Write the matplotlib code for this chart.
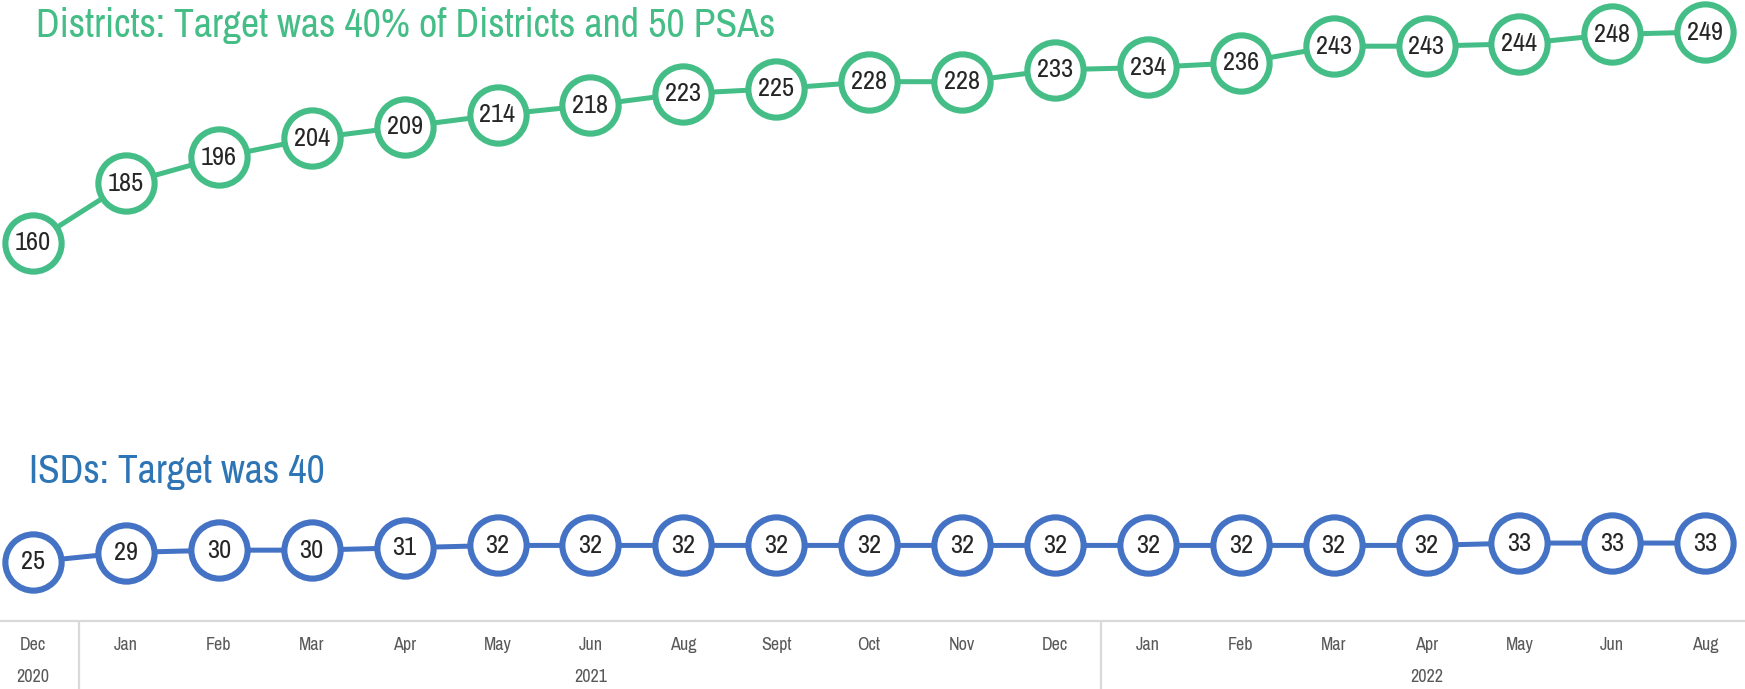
import matplotlib
matplotlib.use('Agg')
import matplotlib.pyplot as plt
import matplotlib.transforms as mtransforms

plt.rcParams['font.family'] = ['Archivo Narrow', 'Liberation Sans', 'DejaVu Sans']

months = ['Dec', 'Jan', 'Feb', 'Mar', 'Apr', 'May', 'Jun', 'Aug', 'Sept', 'Oct',
          'Nov', 'Dec', 'Jan', 'Feb', 'Mar', 'Apr', 'May', 'Jun', 'Aug']
years = ['2020', '2021', '2022']
year_spans = [(0, 0), (1, 11), (12, 18)]

districts = [160, 185, 196, 204, 209, 214, 218, 223, 225, 228, 228, 233, 234, 236,
             243, 243, 244, 248, 249]
isds = [25, 29, 30, 30, 31, 32, 32, 32, 32, 32, 32, 32, 32, 32, 32, 32, 33, 33, 33]

green = '#45BD86'
blue = '#4472C4'
title_blue = '#2E75B6'
text_dark = '#262626'
axis_gray = '#D9D9D9'
label_gray = '#595959'

W, H = 1745, 689
fig = plt.figure(figsize=(W / 100, H / 100), dpi=100)
ax = fig.add_axes([0, 0, 1, 1])
ax.axis('off')

x = list(range(len(months)))
for vals, col in [(districts, green), (isds, blue)]:
    ax.plot(x, vals, color=col, lw=3.6, zorder=2, solid_capstyle='round')
    ax.plot(x, vals, 'o', ms=40.5, mfc='white', mec=col, mew=4.4, zorder=3)
    for xi, v in zip(x, vals):
        ax.text(xi, v, str(v), ha='center', va='center', fontsize=19,
                color=text_dark, zorder=4)

# map data to pixels like the original
px = 92.9
x0 = 33
ax.set_xlim(-x0 / px, (W - x0) / px)
ypx = 2.366
ax.set_ylim(249 - (H - 32) / ypx, 249 + 32 / ypx)

# axis line and category labels
ax.axhline(0, color=axis_gray, lw=1.6, zorder=1)
trans = mtransforms.blended_transform_factory(ax.transData, ax.transAxes)
for xi, m in zip(x, months):
    ax.text(xi, 1 - 645 / H, m, transform=trans, ha='center', va='center',
            fontsize=13, color=label_gray)
for (a, b), yr in zip(year_spans, years):
    ax.text((a + b) / 2, 1 - 677 / H, yr, transform=trans, ha='center',
            va='center', fontsize=13, color=label_gray)
for a, b in year_spans[1:]:
    ax.plot([a - 0.5, a - 0.5], [1 - 623 / H, 0], transform=trans,
            color=axis_gray, lw=1.6)

fig.text(36 / W, 1 - 25 / H, 'Districts: Target was 40% of Districts and 50 PSAs',
         fontsize=28.7, color=green, va='center', ha='left')
fig.text(29 / W, 1 - 471 / H, 'ISDs: Target was 40',
         fontsize=28.7, color=title_blue, va='center', ha='left')

fig.savefig('out.png', dpi=100)
